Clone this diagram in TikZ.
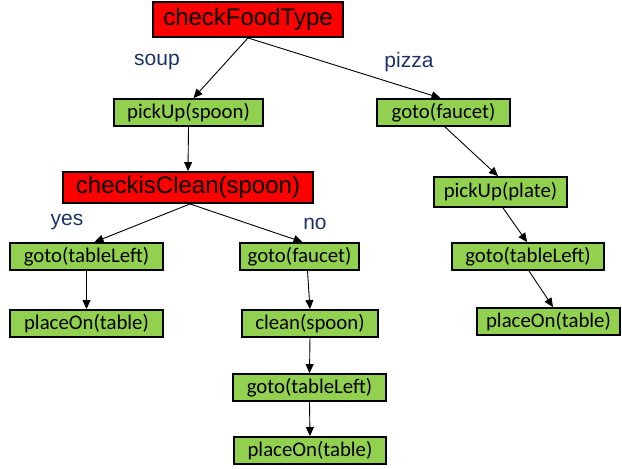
\documentclass[tikz,border=0pt]{standalone}
\usepackage{fontspec}
\setmainfont{Carlito}
\newfontfamily\arialfont{Liberation Sans}
\usetikzlibrary{arrows.meta}
\definecolor{condred}{RGB}{255,0,0}
\definecolor{actgreen}{RGB}{146,208,80}
\definecolor{labelblue}{RGB}{28,50,100}

\begin{document}
\begin{tikzpicture}[x=1pt,y=-1pt,
	cond/.style={draw,line width=1.9pt,fill=condred,inner xsep=0pt,inner ysep=0pt,
		font=\arialfont\fontsize{24}{24}\selectfont},
	act/.style={draw,line width=1.9pt,fill=actgreen,inner xsep=0pt,inner ysep=0pt,
		minimum height=27pt,font=\fontsize{20.8}{21}\selectfont},
	lbl/.style={text=labelblue,font=\arialfont\fontsize{21}{21}\selectfont},
	edge/.style={-{Triangle[length=9pt,width=8pt]},line width=0.9pt}]
	\useasboundingbox (0,0) rectangle (622,469);
%
	\node[cond,minimum width=190pt,minimum height=35pt] (checkFood) at (248,19.5) {checkFoodType};
	\node[act,minimum width=149pt] (pickSpoon) at (188.5,112.5) {pickUp(spoon)};
	\node[act,minimum width=133pt] (gotoFaucetR) at (443.5,112.5) {goto(faucet)};
	\node[cond,minimum width=250pt,minimum height=31pt] (checkClean) at (188,187.5) {checkisClean(spoon)};
%
	\node[act,minimum width=153pt] (gotoTableL) at (86.5,256.5) {goto(tableLeft)};
	\node[act,minimum width=153pt] (placeL) at (86.5,323.5) {placeOn(table)};
	\node[act,minimum width=119pt] (gotoFaucetM) at (299.5,256.5) {goto(faucet)};
	\node[act,minimum width=136pt] (cleanSpoon) at (310,323.5) {clean(spoon)};
	\node[act,minimum width=153pt] (gotoTableM) at (309.5,387.5) {goto(tableLeft)};
	\node[act,minimum width=152pt] (placeM) at (310,450.5) {placeOn(table)};
	\node[act,minimum width=133pt,minimum height=30pt] (pickPlate) at (500.5,192) {pickUp(plate)};
	\node[act,minimum width=152pt] (gotoTableR) at (528,256.5) {goto(tableLeft)};
	\node[act,minimum width=143pt] (placeR) at (548.5,321.5) {placeOn(table)};
%
	\node[lbl] (soupLbl) at (157,62) {soup};
	\node[lbl] (pizzaLbl) at (409,62) {pizza};
	\node[lbl] (yesLbl) at (67,222) {yes};
	\node[lbl] (noLbl) at (315,224) {no};
%
	\draw[edge] (checkFood.south) -- ([xshift=5pt]pickSpoon.north);
	\draw[edge] (checkFood.south) -- ([xshift=-3pt]gotoFaucetR.north);
	\draw[edge] (pickSpoon.south) -- (checkClean.north);
	\draw[edge] ([xshift=2pt]checkClean.south) -- ([xshift=8pt]gotoTableL.north);
	\draw[edge] ([xshift=2pt]checkClean.south) -- ([xshift=3pt]gotoFaucetM.north);
	\draw[edge] (gotoTableL.south) -- (placeL.north);
	\draw[edge] ([xshift=8pt]gotoFaucetM.south) -- (cleanSpoon.north);
	\draw[edge] (cleanSpoon.south) -- (gotoTableM.north);
	\draw[edge] (gotoTableM.south) -- (placeM.north);
	\draw[edge] ([xshift=1.5pt]gotoFaucetR.south) -- ([xshift=-2.5pt]pickPlate.north);
	\draw[edge] ([xshift=2.5pt]pickPlate.south) -- ([xshift=-1pt]gotoTableR.north);
	\draw[edge] ([xshift=1pt]gotoTableR.south) -- ([xshift=4.5pt]placeR.north);
\end{tikzpicture}
\end{document}
